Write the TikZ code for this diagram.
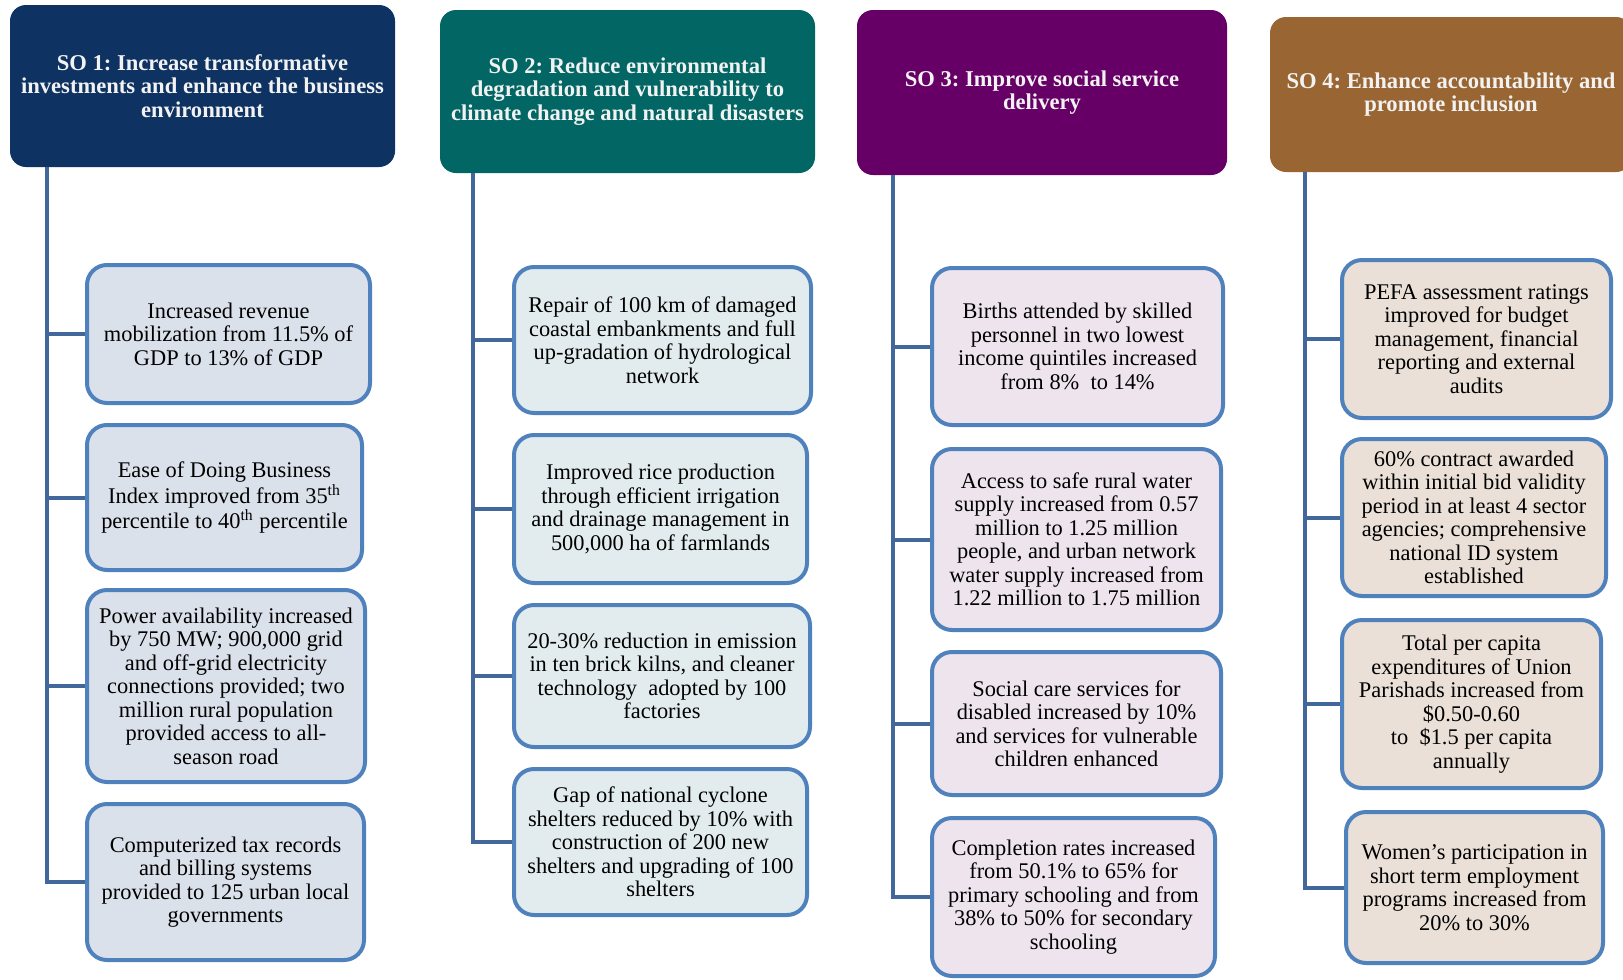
\documentclass[tikz,border=0pt]{standalone}
\usepackage{fontspec}
\setmainfont{Liberation Serif}
\frenchspacing

\definecolor{navyhdr}{RGB}{14,50,98}
\definecolor{tealhdr}{RGB}{2,102,100}
\definecolor{plumhdr}{RGB}{102,0,102}
\definecolor{brownhdr}{RGB}{153,102,51}
\definecolor{navyfill}{RGB}{219,225,234}
\definecolor{tealfill}{RGB}{226,236,238}
\definecolor{plumfill}{RGB}{237,228,238}
\definecolor{brownfill}{RGB}{234,224,215}
\definecolor{boxline}{RGB}{79,129,189}
\definecolor{trunkline}{RGB}{66,103,155}

\tikzset{
    hdr/.style={rounded corners=8pt, text={rgb,255:red,242;green,242;blue,242}, align=center,
                font=\bfseries\fontsize{11.3}{11.7}\selectfont, inner sep=2pt},
    result/.style={draw=boxline, line width=2pt, rounded corners=10pt, align=center,
                   font=\fontsize{11.2}{11.75}\selectfont, inner sep=2pt},
    trunk/.style={draw=trunkline, line width=2pt}
}

\begin{document}
\begin{tikzpicture}[x=1pt, y=-1pt]
                    \clip (0,0) rectangle (811.5,490);

                    % objective headers
                    \node[hdr, fill=navyhdr, minimum width=192.5pt, minimum height=81pt] (h1) at (101.25,43)
                        {SO 1: Increase transformative\\investments and enhance the business\\environment};
                    \node[hdr, fill=tealhdr, minimum width=187.5pt, minimum height=81.5pt] (h2) at (313.75,45.75)
                        {SO 2: Reduce environmental\\degradation and vulnerability to\\climate change and natural disasters};
                    \node[hdr, fill=plumhdr, minimum width=185pt, minimum height=82.5pt] (h3) at (521,46.25)
                        {SO 3: Improve social service\\delivery};
                    \node[hdr, fill=brownhdr, minimum width=181pt, minimum height=77.5pt] (h4) at (725.5,47.25)
                        {SO 4: Enhance accountability and\\promote inclusion};

                    % SO 1 results
                    \node[result, fill=navyfill, minimum width=141.5pt, minimum height=69pt] (c11) at (114.25,167)
                        {Increased revenue\\mobilization from 11.5\% of\\GDP to 13\% of GDP};
                    \node[result, fill=navyfill, minimum width=137.5pt, minimum height=72.5pt] (c12) at (112.25,248.75)
                        {Ease of Doing Business\\Index improved from 35\textsuperscript{th}\\percentile to 40\textsuperscript{th} percentile};
                    \node[result, fill=navyfill, minimum width=139pt, minimum height=96pt] (c13) at (113,343)
                        {Power availability increased\\by 750 MW; 900,000 grid\\and off-grid electricity\\connections provided; two\\million rural population\\provided access to all-\\season road};
                    \node[result, fill=navyfill, minimum width=138.5pt, minimum height=78pt] (c14) at (112.75,441)
                        {Computerized tax records\\and billing systems\\provided to 125 urban local\\governments};

                    % SO 2 results
                    \node[result, fill=tealfill, minimum width=148.5pt, minimum height=73pt] (c21) at (331.25,170)
                        {Repair of 100 km of damaged\\coastal embankments and full\\up-gradation of hydrological\\network};
                    \node[result, fill=tealfill, minimum width=146.5pt, minimum height=74pt] (c22) at (330.25,254.5)
                        {Improved rice production\\through efficient irrigation\\and drainage management in\\500,000 ha of farmlands};
                    \node[result, fill=tealfill, minimum width=148pt, minimum height=71pt] (c23) at (331,338)
                        {20-30\% reduction in emission\\in ten brick kilns, and cleaner\\technology\ \ adopted by 100\\factories};
                    \node[result, fill=tealfill, minimum width=146.5pt, minimum height=73pt] (c24) at (330.25,421)
                        {Gap of national cyclone\\shelters reduced by 10\% with\\construction of 200 new\\shelters and upgrading of 100\\shelters};

                    % SO 3 results
                    \node[result, fill=plumfill, minimum width=145.5pt, minimum height=78.5pt] (c31) at (538.75,173.25)
                        {Births attended by skilled\\personnel in two lowest\\income quintiles increased\\from 8\%\ \ to 14\%};
                    \node[result, fill=plumfill, minimum width=144.5pt, minimum height=90.5pt] (c32) at (538.25,269.75)
                        {Access to safe rural water\\supply increased from 0.57\\million to 1.25 million\\people, and urban network\\water supply increased from\\1.22 million to 1.75 million};
                    \node[result, fill=plumfill, minimum width=144.5pt, minimum height=71.5pt] (c33) at (538.25,361.75)
                        {Social care services for\\disabled increased by 10\%\\and services for vulnerable\\children enhanced};
                    \node[result, fill=plumfill, minimum width=141.5pt, minimum height=79pt] (c34) at (536.75,448.5)
                        {Completion rates increased\\from 50.1\%\ to 65\%\ for\\primary schooling and from\\38\%\ to 50\%\ for secondary\\schooling};

                    % SO 4 results
                    \node[result, fill=brownfill, minimum width=134.5pt, minimum height=79pt] (c41) at (738.25,169.5)
                        {PEFA assessment ratings\\improved for budget\\management, financial\\reporting and external\\audits};
                    \node[result, fill=brownfill, minimum width=132pt, minimum height=78.5pt] (c42) at (737,258.75)
                        {60\% contract awarded\\within initial bid validity\\period in at least 4 sector\\agencies; comprehensive\\national ID system\\established};
                    \node[result, fill=brownfill, minimum width=129.5pt, minimum height=84pt] (c43) at (735.75,352)
                        {Total per capita\\expenditures of Union\\Parishads increased from\\\$0.50-0.60\\to\ \ \$1.5 per capita\\annually};
                    \node[result, fill=brownfill, minimum width=128.5pt, minimum height=75.5pt] (c44) at (737.25,443.75)
                        {Women's participation in\\short term employment\\programs increased from\\20\% to 30\%};

                    % trunks and branches
                    \coordinate (t1) at (23.5,83.5);
                    \coordinate (t2) at (236.5,86.5);
                    \coordinate (t3) at (446.25,87.5);
                    \coordinate (t4) at (652.5,86);
                    \foreach \c in {1,...,4} {
                        \draw[trunk] (t\c) |- (c\c4.west);
                        \foreach \r in {1,2,3}
                            \draw[trunk] (t\c |- c\c\r.west) -- (c\c\r.west);
                    }
                \end{tikzpicture}
\end{document}
